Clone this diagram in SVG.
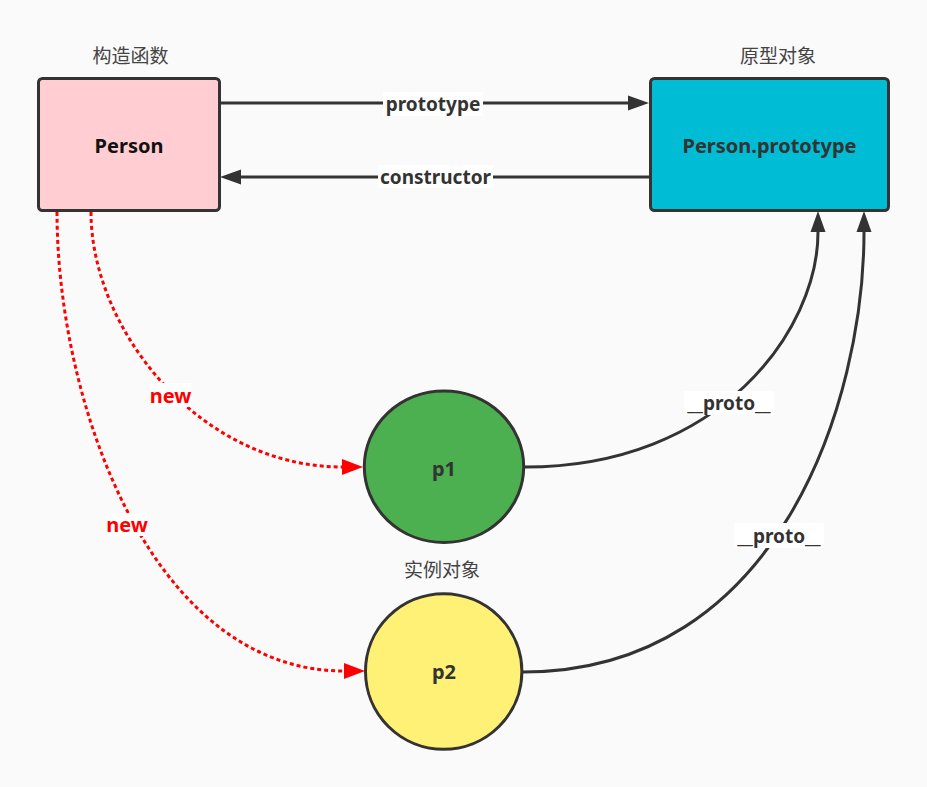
<svg xmlns="http://www.w3.org/2000/svg" width="927" height="787" viewBox="0 0 927 787">
<style>
.node{stroke:#333;stroke-width:3}
.nt{font-family:"Noto Sans","Liberation Sans",sans-serif;font-weight:bold;font-size:20px;text-anchor:middle;fill:#333}
.cap{font-family:"Noto Sans CJK SC","Noto Sans",sans-serif;font-size:19px;text-anchor:middle;fill:#444}
.el{font-family:"Noto Sans","Liberation Sans",sans-serif;font-weight:bold;font-size:19px;text-anchor:middle;fill:#333}
.rl{font-family:"Noto Sans","Liberation Sans",sans-serif;font-weight:bold;font-size:20px;text-anchor:middle;fill:#ff0000}
.lb{fill:#ffffff}
.dark{fill:none;stroke:#333;stroke-width:3}
.red{fill:none;stroke:#ff0000;stroke-width:3;stroke-dasharray:4 3}
</style>
<defs>
<marker id="ad" markerUnits="userSpaceOnUse" markerWidth="22" markerHeight="16" refX="0" refY="8" orient="auto"><path d="M0,0.5 L21,8 L0,15.5 Z" fill="#333"/></marker>
<marker id="ar" markerUnits="userSpaceOnUse" markerWidth="22" markerHeight="17" refX="0" refY="8" orient="auto"><path d="M0,0 L21,8 L0,16 Z" fill="#ff0000"/></marker>
</defs>
<rect x="0" y="0" width="927" height="787" fill="#fafafa"/>

<g id="connectors">
<g id="e-prototype">
<path class="dark" d="M220,103 L628,103" marker-end="url(#ad)"/>
<rect class="lb" x="383" y="92" width="100" height="24"/>
<text class="el" x="433" y="111">prototype</text>
</g>
<g id="e-constructor">
<path class="dark" d="M649,177 L241,177" marker-end="url(#ad)"/>
<rect class="lb" x="378" y="165" width="115" height="23"/>
<text class="el" x="435.5" y="184">constructor</text>
</g>
<g id="e-new1">
<path class="red" d="M91,212 C91,330 200,467 342,467" marker-end="url(#ar)"/>
<rect class="lb" x="150" y="383" width="41" height="24"/>
<text class="rl" x="170.5" y="403">new</text>
</g>
<g id="e-new2">
<path class="red" d="M57,212 C57,400 150,671 344,671" marker-end="url(#ar)"/>
<rect class="lb" x="107" y="513" width="40" height="23"/>
<text class="rl" x="127" y="532">new</text>
</g>
<g id="e-proto1">
<path class="dark" d="M525,467 C720,467 818,330 818,232" marker-end="url(#ad)"/>
<rect class="lb" x="684" y="391" width="90" height="24"/>
<text class="el" x="729" y="410">__proto__</text>
</g>
<g id="e-proto2">
<path class="dark" d="M523,672 C780,672 864,400 864,232" marker-end="url(#ad)"/>
<rect class="lb" x="734" y="523" width="90" height="25"/>
<text class="el" x="779" y="543">__proto__</text>
</g>
</g>

<g id="person">
<rect class="node" x="38.5" y="78.5" width="181" height="132" rx="4" fill="#ffcdd2"/>
<text class="nt" x="129" y="153" style="fill:#111">Person</text>
<text class="cap" x="130.5" y="63">构造函数</text>
</g>

<g id="person-prototype">
<rect class="node" x="650.5" y="78.5" width="238" height="132" rx="4" fill="#00bcd4"/>
<text class="nt" x="769.5" y="152.5">Person.prototype</text>
<text class="cap" x="778" y="63">原型对象</text>
</g>

<g id="p1">
<ellipse class="node" cx="444" cy="466.7" rx="79.7" ry="75.8" fill="#4caf50"/>
<text class="nt" x="444" y="476">p1</text>
</g>

<g id="p2">
<ellipse class="node" cx="443.7" cy="671.5" rx="78.2" ry="77.7" fill="#fff176"/>
<text class="nt" x="444" y="679">p2</text>
<text class="cap" x="442" y="577">实例对象</text>
</g>
</svg>
